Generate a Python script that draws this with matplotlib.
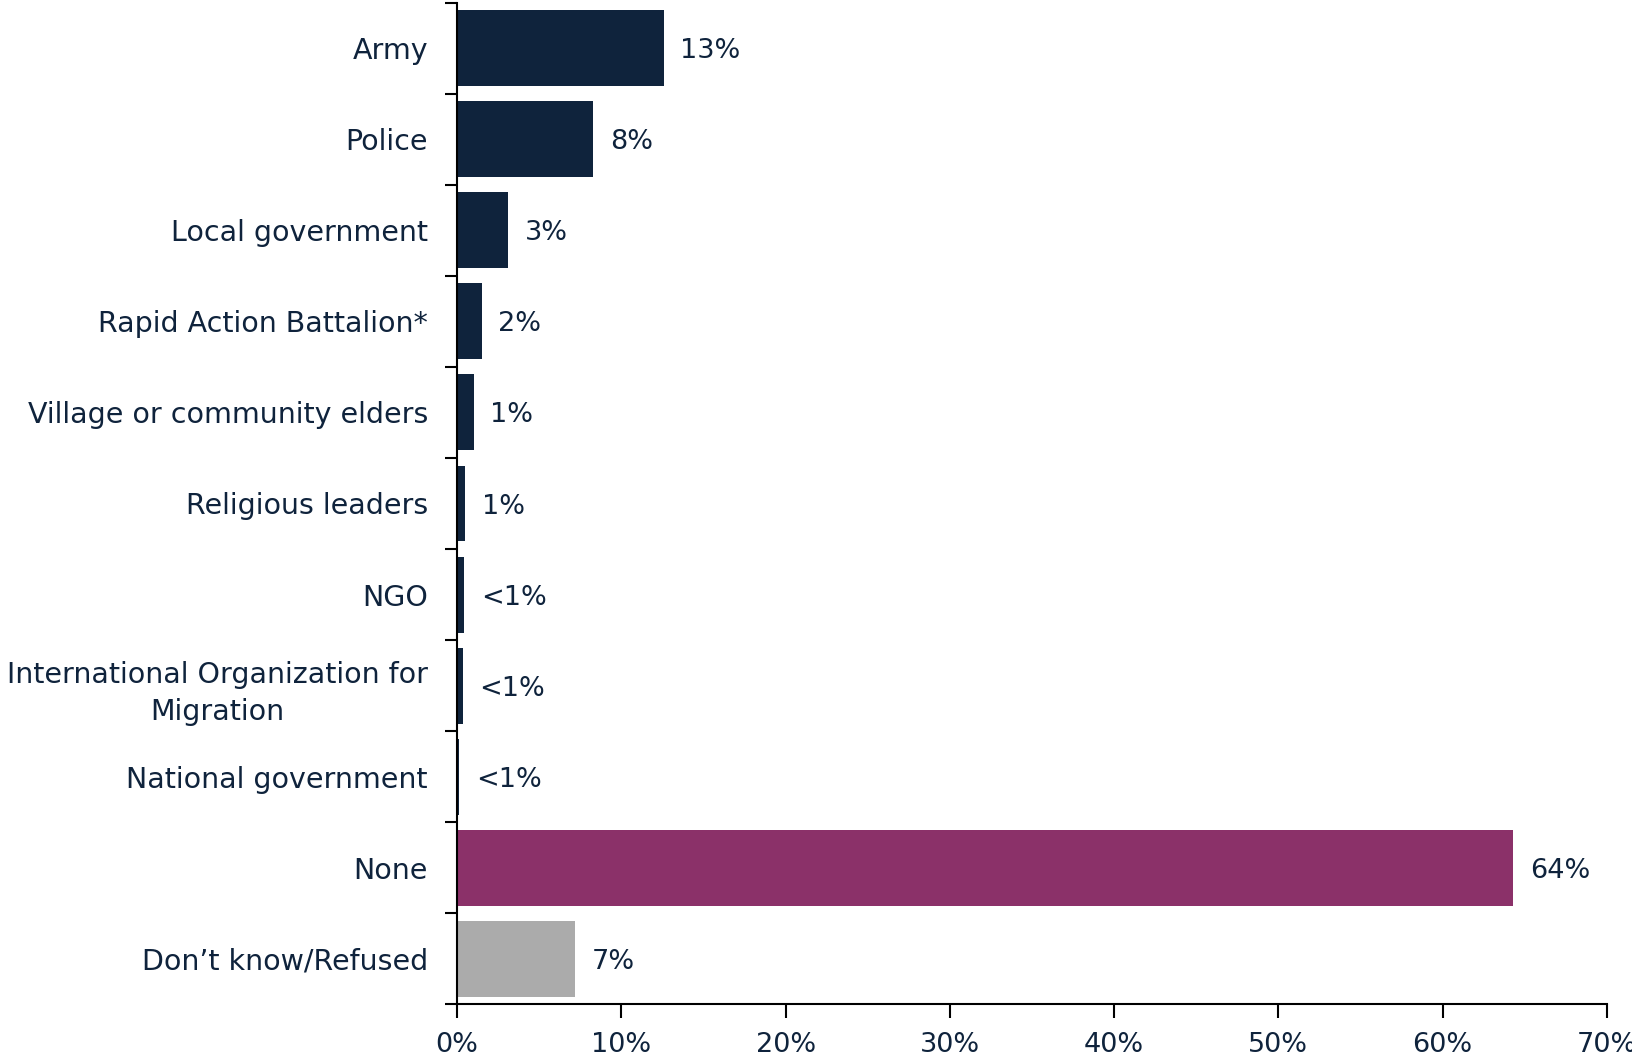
import numpy as np
import matplotlib.pyplot as plt
from matplotlib.ticker import FixedLocator, PercentFormatter

categories = [
    "Army",
    "Police",
    "Local government",
    "Rapid Action Battalion*",
    "Village or community elders",
    "Religious leaders",
    "NGO",
    "International Organization for\nMigration",
    "National government",
    "None",
    "Don\u2019t know/Refused",
]
values = [12.6, 8.3, 3.1, 1.5, 1.0, 0.5, 0.45, 0.35, 0.14, 64.3, 7.2]
value_labels = ["13%", "8%", "3%", "2%", "1%", "1%", "<1%", "<1%", "<1%", "64%", "7%"]

navy = "#0F233C"
purple = "#8B3169"
grey = "#ABABAB"
colors = [navy] * 9 + [purple, grey]

plt.rcParams["font.family"] = ["DejaVu Sans"]

fig = plt.figure(figsize=(16.33, 10.60), dpi=100)
ax = fig.add_axes([0.2799, 0.0528, 0.7041, 0.9444])

y = np.arange(len(categories))
ax.barh(y, values, height=0.835, color=colors)

for yi, v, lab in zip(y, values, value_labels):
    ax.text(v + 1.0, yi, lab, va="center_baseline", ha="left", fontsize=19.5, color=navy)

ax.set_xlim(0, 70)
ax.set_ylim(len(categories) - 0.5, -0.5)

ax.xaxis.set_major_locator(FixedLocator(np.arange(0, 71, 10)))
ax.xaxis.set_major_formatter(PercentFormatter(decimals=0))

# category labels at bar centres, tick marks on the boundaries between bars
ax.set_yticks(y)
ax.set_yticklabels(categories, multialignment="center", linespacing=1.45)
ax.set_yticks(np.arange(-0.5, len(categories), 1), minor=True)
ax.tick_params(axis="y", which="major", length=0, pad=21, labelsize=20.5, labelcolor=navy)
ax.tick_params(axis="y", which="minor", length=9, width=1.5, direction="out")
ax.tick_params(axis="x", length=10, width=1.5, pad=10, labelsize=19.5, labelcolor=navy)

for side in ["top", "right"]:
    ax.spines[side].set_visible(False)
for side in ["left", "bottom"]:
    ax.spines[side].set_linewidth(1.5)

fig.savefig("out.png", dpi=100)
